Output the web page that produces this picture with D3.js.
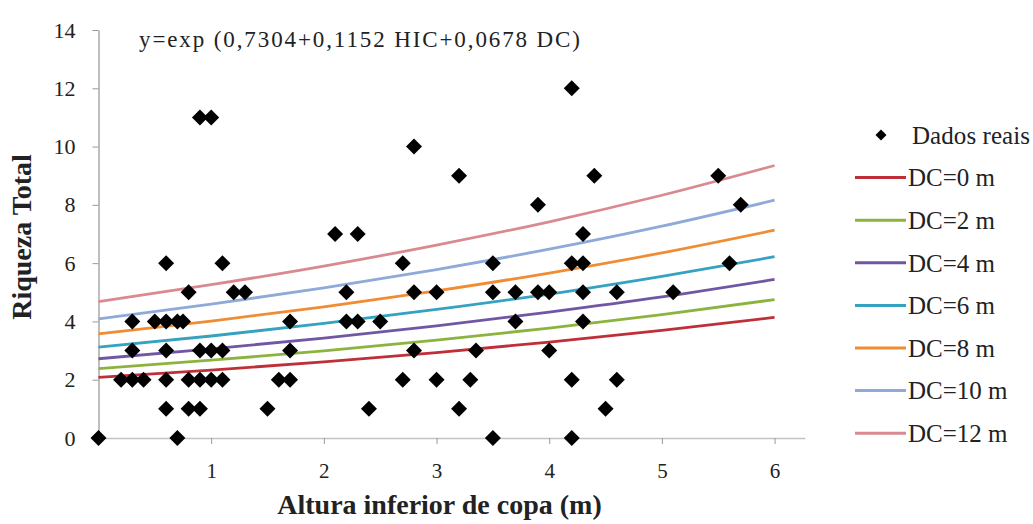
<!DOCTYPE html>
<html>
<head>
<meta charset="utf-8">
<script src="https://cdn.jsdelivr.net/npm/d3@7"></script>
<style>
  body { margin: 0; background: #fff; }
</style>
</head>
<body>
<div id="chart"></div>
<script>
// observed points (HIC in m, total richness)
const hic = [
    0.0, 0.7, 3.5, 4.2,
    0.6, 0.8, 0.9, 1.5, 2.4, 3.2, 4.5,
    0.2, 0.3, 0.4, 0.6, 0.8, 0.9, 1.0, 1.1, 1.6, 1.7, 2.7, 3.0, 3.3, 4.2, 4.6,
    0.3, 0.6, 0.9, 1.0, 1.1, 1.7, 2.8, 3.35, 4.0,
    0.3, 0.5, 0.6, 0.7, 0.75, 1.7, 2.2, 2.3, 2.5, 3.7, 4.3,
    0.8, 1.2, 1.3, 2.2, 2.8, 3.0, 3.5, 3.7, 3.9, 4.0, 4.3, 4.6, 5.1,
    0.6, 1.1, 2.7, 3.5, 4.2, 4.3, 5.6,
    2.1, 2.3, 4.3,
    3.9, 5.7,
    3.2, 4.4, 5.5,
    2.8,
    0.9, 1.0,
    4.2
];
const riqueza = [
    0, 0, 0, 0,
    1, 1, 1, 1, 1, 1, 1,
    2, 2, 2, 2, 2, 2, 2, 2, 2, 2, 2, 2, 2, 2, 2,
    3, 3, 3, 3, 3, 3, 3, 3, 3,
    4, 4, 4, 4, 4, 4, 4, 4, 4, 4, 4,
    5, 5, 5, 5, 5, 5, 5, 5, 5, 5, 5, 5, 5,
    6, 6, 6, 6, 6, 6, 6,
    7, 7, 7,
    8, 8,
    9, 9, 9,
    10,
    11, 11,
    12
];

// fitted curves read at HIC = 0..6
const curveX = [0, 1, 2, 3, 4, 5, 6];
const dc0  = [2.08, 2.33, 2.61, 2.93, 3.29, 3.69, 4.14];
const dc2  = [2.38, 2.67, 2.99, 3.36, 3.77, 4.23, 4.75];
const dc4  = [2.72, 3.06, 3.43, 3.85, 4.32, 4.84, 5.44];
const dc6  = [3.12, 3.50, 3.93, 4.41, 4.94, 5.55, 6.22];
const dc8  = [3.57, 4.01, 4.50, 5.05, 5.66, 6.35, 7.13];
const dc10 = [4.09, 4.59, 5.15, 5.78, 6.48, 7.27, 8.16];
const dc12 = [4.68, 5.26, 5.90, 6.62, 7.42, 8.33, 9.35];

const seriesNames = ['DC=0 m', 'DC=2 m', 'DC=4 m', 'DC=6 m', 'DC=8 m', 'DC=10 m', 'DC=12 m'];
const seriesValues = [dc0, dc2, dc4, dc6, dc8, dc10, dc12];
const seriesColors = ['#bf2f38', '#8db33f', '#7156a3', '#34a2c0', '#f08c33', '#8fa9d8', '#d98a91'];

const xTicks = [1, 2, 3, 4, 5, 6];
const yTicks = [0, 2, 4, 6, 8, 10, 12, 14];

const serif = 'Liberation Serif';

const margin = { top: 30, right: 228, bottom: 86, left: 98.5 };
const width = 1033 - margin.left - margin.right;
const height = 524 - margin.top - margin.bottom;

const svgRoot = d3.select('#chart')
    .append('svg')
    .attr('width', 1033)
    .attr('height', 524);

const svg = svgRoot.append('g')
    .attr('transform', `translate(${margin.left},${margin.top})`);

const xScale = d3.scaleLinear().domain([0, 6.27]).range([0, width]);
const yScale = d3.scaleLinear().domain([0, 14]).range([height, 0]);

// axes
const xAxis = svg.append('g')
    .attr('class', 'x-axis')
    .attr('transform', `translate(0,${height})`)
    .call(d3.axisBottom(xScale).tickValues(xTicks).tickSize(6).tickSizeOuter(0).tickFormat(d3.format('d')));
xAxis.select('.domain').attr('stroke', '#c4c4c4').attr('stroke-width', 1.5);
xAxis.selectAll('.tick line').attr('stroke', '#9a9a9a');
xAxis.selectAll('.tick text')
    .attr('y', 25)
    .attr('dy', '0.71em')
    .attr('fill', '#222')
    .style('font-family', serif, 'important')
    .style('font-weight', 'normal')
    .style('font-size', '21px');

const yAxis = svg.append('g')
    .attr('class', 'y-axis')
    .call(d3.axisLeft(yScale).tickValues(yTicks).tickSize(6).tickSizeOuter(0));
yAxis.select('.domain').attr('stroke', '#a8a8a8').attr('stroke-width', 1.5);
yAxis.selectAll('.tick line').attr('stroke', '#9a9a9a');
yAxis.selectAll('.tick text')
    .attr('x', -23)
    .attr('fill', '#222')
    .style('font-family', serif, 'important')
    .style('font-weight', 'normal')
    .style('font-size', '22px');

// axis titles
svg.append('text')
    .attr('x', 341)
    .attr('y', height + 76)
    .attr('fill', '#222')
    .style('font-family', serif, 'important')
    .style('font-weight', 'bold')
    .style('font-size', '28px')
    .style('text-anchor', 'middle')
    .text('Altura inferior de copa (m)');

svgRoot.append('text')
    .attr('transform', `translate(31,237) rotate(-90)`)
    .attr('fill', '#222')
    .style('font-family', serif, 'important')
    .style('font-weight', 'bold')
    .style('font-size', '28px')
    .style('text-anchor', 'middle')
    .text('Riqueza Total');

// equation
svgRoot.append('text')
    .attr('x', 139)
    .attr('y', 46.5)
    .attr('fill', '#222')
    .attr('textLength', 441)
    .attr('lengthAdjust', 'spacing')
    .style('font-family', serif, 'important')
    .style('font-weight', 'normal')
    .style('font-size', '23px')
    .text('y=exp (0,7304+0,1152 HIC+0,0678 DC)');

// fitted curves
const line = d3.line()
    .x((d, i) => xScale(curveX[i]))
    .y(d => yScale(d))
    .curve(d3.curveMonotoneX);

svg.selectAll('.fit')
    .data(seriesValues)
    .enter()
    .append('path')
    .attr('class', 'fit')
    .attr('d', d => line(d))
    .attr('fill', 'none')
    .attr('stroke', (d, i) => seriesColors[i])
    .attr('stroke-width', 2.8);

// observed points as diamonds
const diamond = d3.symbol().type(d3.symbolSquare).size(128);
svg.selectAll('.pt')
    .data(hic)
    .enter()
    .append('path')
    .attr('class', 'pt')
    .attr('d', diamond)
    .attr('transform', (d, i) => `translate(${xScale(d)},${yScale(riqueza[i])}) rotate(45)`)
    .attr('fill', '#000');

// legend
const legend = svgRoot.append('g').attr('class', 'legend');
const legendY0 = 135;
const legendStep = 42.6;

legend.append('path')
    .attr('d', d3.symbol().type(d3.symbolSquare).size(60))
    .attr('transform', `translate(881,${legendY0}) rotate(45)`)
    .attr('fill', '#000');
legend.append('text')
    .attr('x', 912)
    .attr('y', legendY0)
    .attr('dy', '0.35em')
    .attr('fill', '#222')
    .attr('textLength', 118)
    .attr('lengthAdjust', 'spacing')
    .style('font-family', serif, 'important')
    .style('font-weight', 'normal')
    .style('font-size', '25px')
    .text('Dados reais');

seriesNames.forEach((name, i) => {
    const y = legendY0 + legendStep * (i + 1);
    legend.append('line')
        .attr('x1', 855).attr('x2', 906)
        .attr('y1', y).attr('y2', y)
        .attr('stroke', seriesColors[i])
        .attr('stroke-width', 3);
    legend.append('text')
        .attr('x', 908)
        .attr('y', y)
        .attr('dy', '0.35em')
        .attr('fill', '#222')
        .style('font-family', serif, 'important')
        .style('font-weight', 'normal')
        .style('font-size', '25px')
        .text(name);
});
</script>
</body>
</html>
